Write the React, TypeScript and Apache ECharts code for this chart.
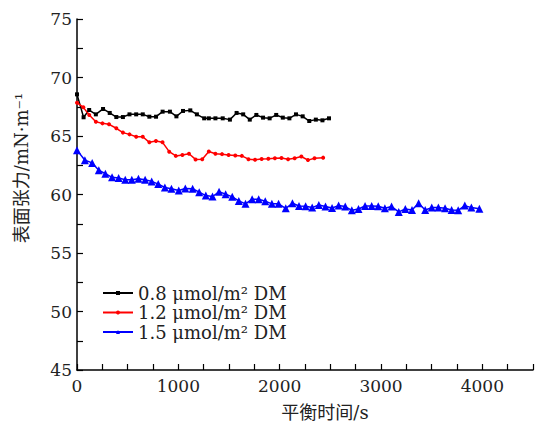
import React, { useEffect, useRef } from "react";
import * as echarts from "echarts";

const names = ["0.8 μmol/m² DM", "1.2 μmol/m² DM", "1.5 μmol/m² DM"];
const colors = ["#000000", "#ff0000", "#0000ff"];

const t08 = [0, 65, 120, 186, 257, 323, 388, 453, 518, 584, 649, 714, 780, 845, 917, 981, 1046, 1118, 1183, 1255,
  1301, 1366, 1438, 1509, 1575, 1640, 1705, 1770, 1836, 1901, 1966, 2031, 2096, 2161, 2227, 2292, 2357, 2422, 2487];
const v08 = [68.56, 66.6, 67.22, 66.85, 67.31, 66.97, 66.62, 66.62, 66.85, 66.85, 66.85, 66.65, 66.65, 67.08, 67.08, 66.68, 67.14, 67.19, 66.85, 66.51,
  66.51, 66.51, 66.51, 66.4, 66.97, 66.85, 66.4, 66.8, 66.57, 66.51, 66.8, 66.57, 66.51, 66.85, 66.68, 66.28, 66.4, 66.34, 66.51];

const t12 = [0, 62, 121, 186, 251, 316, 388, 453, 518, 584, 649, 714, 779, 844, 910, 975, 1040, 1105, 1170, 1236,
  1301, 1366, 1431, 1496, 1562, 1627, 1692, 1757, 1822, 1888, 1953, 2018, 2083, 2148, 2214, 2279, 2344, 2429];
const v12 = [67.85, 67.45, 66.79, 66.22, 66.08, 66.0, 65.66, 65.29, 65.14, 64.94, 64.94, 64.46, 64.57, 64.46, 63.66, 63.3, 63.38, 63.48, 63.0, 63.02,
  63.68, 63.48, 63.45, 63.38, 63.34, 63.3, 63.02, 62.97, 63.04, 63.06, 63.1, 63.12, 63.02, 63.1, 63.25, 62.94, 63.1, 63.15];

const t15 = [0, 78, 150, 215, 280, 346, 411, 476, 541, 606, 672, 737, 802, 867, 932, 1004, 1069, 1141, 1206, 1271,
  1337, 1402, 1467, 1532, 1597, 1663, 1728, 1793, 1858, 1923, 1989, 2060, 2126, 2191, 2256, 2321, 2386, 2452, 2517, 2582,
  2647, 2712, 2778, 2843, 2908, 2973, 3038, 3104, 3175, 3240, 3306, 3371, 3436, 3501, 3566, 3632, 3697, 3762, 3827, 3892, 3971];
const v15 = [63.79, 62.93, 62.7, 62.07, 61.78, 61.47, 61.41, 61.26, 61.26, 61.35, 61.26, 61.12, 60.89, 60.6, 60.49, 60.34, 60.52, 60.49, 60.2, 59.91,
  59.83, 60.23, 60.03, 59.8, 59.45, 59.2, 59.6, 59.6, 59.43, 59.2, 59.2, 58.82, 59.25, 59.02, 58.99, 58.88, 59.11, 58.97, 58.85, 59.05,
  58.97, 58.65, 58.76, 59.02, 59.02, 58.99, 58.82, 58.97, 58.51, 58.76, 58.68, 59.25, 58.68, 58.88, 58.88, 58.82, 58.68, 58.65, 59.05, 58.88, 58.79];

const xTickLabels = [0, 1000, 2000, 3000, 4000];
const yTickLabels = [45, 50, 55, 60, 65, 70, 75];

const zip = (t: number[], v: number[]) => t.map((x, i) => [x, v[i]]);

const serif = "DejaVu Serif";

export default function App() {
  const ref = useRef<HTMLDivElement>(null);
  useEffect(() => {
    if (!ref.current) return;
    const chart = echarts.init(ref.current, undefined, { renderer: "svg" });
    const axisCommon = {
      axisLine: { show: true, lineStyle: { color: "#000", width: 1.5 } },
      axisTick: { show: true, inside: true, length: 6, lineStyle: { color: "#000", width: 1.2 } },
      splitLine: { show: false },
    };
    chart.setOption({
      animation: false,
      backgroundColor: "#ffffff",
      grid: { left: 77, top: 19, right: 0, bottom: 53, containLabel: false },
      xAxis: {
        type: "value",
        min: 0,
        max: 4500,
        interval: 250,
        ...axisCommon,
        axisLabel: {
          color: "#222",
          fontFamily: serif,
          fontSize: 17,
          margin: 7,
          formatter: (v: number) => (xTickLabels.includes(v) ? String(v) : ""),
        },
      },
      yAxis: {
        type: "value",
        min: 45,
        max: 75,
        interval: 2.5,
        ...axisCommon,
        axisLabel: {
          color: "#222",
          fontFamily: serif,
          fontSize: 17,
          margin: 5,
          formatter: (v: number) => (yTickLabels.includes(v) ? String(v) : ""),
        },
      },
      legend: {
        orient: "vertical",
        left: 102,
        top: 284,
        padding: 0,
        itemWidth: 30,
        itemHeight: 5,
        itemGap: 1.5,
        textStyle: { fontFamily: serif, fontSize: 18, lineHeight: 18, color: "#222" },
        data: names,
      },
      graphic: [
        {
          type: "text",
          x: 21,
          y: 168,
          rotation: Math.PI / 2,
          style: {
            text: "表面张力/mN·m⁻¹",
            font: '18px "DejaVu Serif", "Noto Sans CJK SC"',
            fill: "#222",
            textAlign: "center",
            textVerticalAlign: "middle",
          },
        },
        {
          type: "text",
          x: 325,
          y: 412,
          style: {
            text: "平衡时间/s",
            font: '18px "DejaVu Serif", "Noto Sans CJK SC"',
            fill: "#222",
            textAlign: "center",
            textVerticalAlign: "middle",
          },
        },
      ],
      series: [
        {
          name: names[0],
          type: "line",
          data: zip(t08, v08),
          symbol: "rect",
          symbolSize: 4,
          lineStyle: { color: colors[0], width: 1.5 },
          itemStyle: { color: colors[0] },
        },
        {
          name: names[1],
          type: "line",
          data: zip(t12, v12),
          symbol: "circle",
          symbolSize: 4,
          lineStyle: { color: colors[1], width: 1.5 },
          itemStyle: { color: colors[1] },
        },
        {
          name: names[2],
          type: "line",
          data: zip(t15, v15),
          symbol: "triangle",
          symbolSize: 8,
          lineStyle: { color: colors[2], width: 1.5 },
          itemStyle: { color: colors[2] },
        },
      ],
    });
    return () => chart.dispose();
  }, []);
  return (
    <div
      ref={ref}
      style={{ position: "fixed", left: 0, top: 0, width: 536, height: 423, background: "#fff" }}
    />
  );
}
